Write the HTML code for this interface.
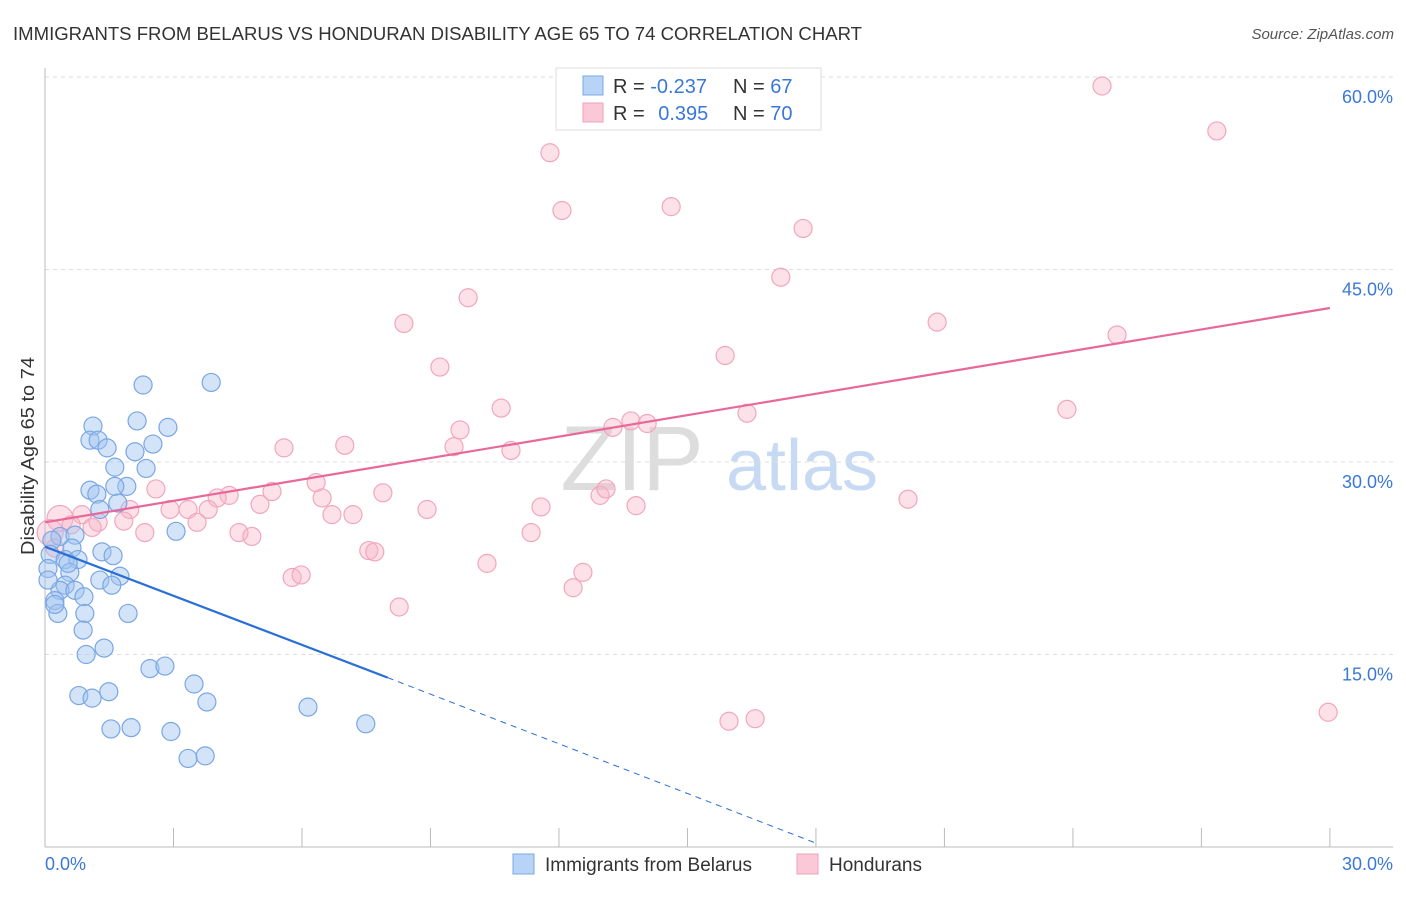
<!DOCTYPE html>
<html><head><meta charset="utf-8">
<style>
body{margin:0;background:#fff;font-family:"Liberation Sans",sans-serif;}
svg text{font-family:"Liberation Sans",sans-serif;}
</style></head>
<body>
<svg id="chart" width="1406" height="892" viewBox="0 0 1406 892" xmlns="http://www.w3.org/2000/svg">
<text x="13" y="40" font-size="18" fill="#333" textLength="849" lengthAdjust="spacingAndGlyphs">IMMIGRANTS FROM BELARUS VS HONDURAN DISABILITY AGE 65 TO 74 CORRELATION CHART</text>
<text x="1394" y="39" font-size="15" fill="#555" text-anchor="end" font-style="italic">Source: ZipAtlas.com</text>
<g>
<text x="632" y="490" font-size="92" fill="#ddd" text-anchor="middle" font-family="Liberation Serif">ZIP</text>
<text x="802" y="490" font-size="72" fill="#c8daf3" text-anchor="middle">atlas</text>
</g>
<g id="grid"></g>
<g id="axes"></g>
<g id="marks"></g>
<g>
<rect x="556" y="68" width="265" height="62" fill="#fff" stroke="#ddd"/>
<rect x="583" y="76" width="20" height="19" fill="#b7d3f5" stroke="#7aa8e6"/>
<rect x="583" y="103" width="20" height="19" fill="#fac8d6" stroke="#f0a0b8"/>
<text x="613" y="93" font-size="20" fill="#333">R = <tspan fill="#3a78d8">-0.237</tspan></text>
<text x="733" y="93" font-size="20" fill="#333">N = <tspan fill="#3a78d8">67</tspan></text>
<text x="613" y="120" font-size="20" fill="#333">R = <tspan fill="#3a78d8" dx="8">0.395</tspan></text>
<text x="733" y="120" font-size="20" fill="#333">N = <tspan fill="#3a78d8">70</tspan></text>
</g>
<text transform="translate(34,456) rotate(-90)" font-size="18" fill="#333" text-anchor="middle" textLength="198" lengthAdjust="spacingAndGlyphs">Disability Age 65 to 74</text>
<g>
<rect x="513" y="854" width="21" height="20" fill="#b7d3f5" stroke="#7aa8e6"/>
<text x="545" y="871" font-size="19" fill="#333">Immigrants from Belarus</text>
<rect x="797" y="854" width="21" height="20" fill="#fac8d6" stroke="#f0a0b8"/>
<text x="829" y="871" font-size="19" fill="#333">Hondurans</text>
</g>
</svg>
<script>
const blueX=[2.29,3.88,1.12,2.15,2.87,1.05,1.24,1.45,2.52,2.10,1.63,2.36,1.05,1.21,1.91,1.63,1.28,1.70,3.06,0.35,0.16,0.70,0.63,0.12,0.07,0.47,1.33,1.59,0.77,1.75,0.58,1.28,1.56,0.47,0.35,0.70,0.91,0.23,0.30,0.93,1.94,0.89,1.38,0.96,2.45,2.80,0.79,1.10,1.49,3.48,3.78,6.14,1.54,2.01,2.94,7.49,3.34,3.74,0.23,0.07,0.54];
const blueY=[36.0,36.2,32.8,33.2,32.7,31.7,31.7,31.1,31.4,30.8,29.6,29.5,27.8,27.5,28.1,28.1,26.3,26.8,24.6,24.2,23.9,24.3,23.3,22.8,21.7,22.4,23.0,22.7,22.4,21.1,21.4,20.8,20.4,20.4,20.0,20.0,19.5,19.2,18.2,18.2,18.2,16.9,15.5,15.0,13.9,14.1,11.8,11.6,12.1,12.7,11.3,10.9,9.2,9.3,9.0,9.6,6.9,7.1,18.9,20.8,22.1];
const pinkX=[24.68,15.39,27.36,11.79,12.07,14.62,17.70,17.18,9.88,8.38,20.83,25.03,15.88,9.22,23.86,10.65,16.39,13.68,14.06,13.26,9.69,7.00,9.55,5.58,10.88,6.33,2.59,7.89,5.30,4.30,6.47,4.02,20.15,12.96,13.10,5.02,13.80,11.58,8.92,2.92,3.34,3.81,6.70,7.19,1.98,0.86,0.35,1.24,1.84,3.55,1.10,0.61,2.33,4.53,4.83,11.35,0.12,0.23,7.56,7.70,10.32,12.56,5.77,5.98,12.33,8.27,15.97,16.58,29.96];
const pinkY=[59.3,57.3,55.8,54.1,49.6,49.9,48.2,44.4,42.8,40.8,40.9,39.9,38.3,37.4,34.1,34.2,33.8,33.2,33.0,32.7,32.5,31.3,31.2,31.1,30.9,28.4,27.9,27.6,27.7,27.4,27.2,27.2,27.1,27.4,27.9,26.7,26.6,26.5,26.3,26.3,26.3,26.3,25.9,25.9,26.3,25.9,25.6,25.3,25.4,25.3,24.9,25.1,24.5,24.5,24.2,24.5,24.5,23.3,23.1,23.0,22.1,21.4,21.0,21.2,20.2,18.7,9.8,10.0,10.5];
const yTicks=[15,30,45,60];
const yTickLabels=["15.0%","30.0%","45.0%","60.0%"];
const xTickVals=[0,3,6,9,12,15,18,21,24,27,30];
const blueTrend=[[0,23.4],[8,13.2],[18,0.3]];
const pinkTrend=[[0,25.3],[30,42.0]];
const NS="http://www.w3.org/2000/svg";
const X=v=>45+v*42.83, Y=v=>847-v*12.833;
function mk(tag,attrs,parent){const e=document.createElementNS(NS,tag);for(const k in attrs)e.setAttribute(k,attrs[k]);parent.appendChild(e);return e;}
const grid=document.getElementById('grid'),axes=document.getElementById('axes'),marks=document.getElementById('marks');
yTicks.forEach((t,i)=>{
 const l=mk('line',{x1:45,x2:1393,y1:Y(t),y2:Y(t),stroke:'#ddd','stroke-dasharray':'4,4'},grid);
 
 
 const tx=mk('text',{x:1393,y:Y(t)+26,'font-size':18,fill:'#3a78d8','text-anchor':'end'},grid);
 tx.textContent=yTickLabels[i];
 
 
});
mk('line',{x1:45,x2:45,y1:68,y2:847,stroke:'#bbb'},axes);
mk('line',{x1:45,x2:1393,y1:847,y2:847,stroke:'#bbb'},axes);
xTickVals.forEach(t=>{const l=mk('line',{x1:X(t),x2:X(t),y1:828,y2:847,stroke:'#bbb'},axes);
 
 });
const xl=mk('text',{x:45,y:870,'font-size':18,fill:'#3a78d8'},axes);xl.textContent="0.0%";


const xr=mk('text',{x:1393,y:870,'font-size':18,fill:'#3a78d8','text-anchor':'end'},axes);xr.textContent="30.0%";


pinkX.forEach((v,i)=>{const r=(v<0.5&&pinkY[i]>24)?13:9;
 const c=mk('circle',{cx:X(v),cy:Y(pinkY[i]),r:r,fill:'rgba(248,180,200,0.4)',stroke:'#f2a6bd','stroke-width':1.2},marks);
 
 });
blueX.forEach((v,i)=>{
 const c=mk('circle',{cx:X(v),cy:Y(blueY[i]),r:9,fill:'rgba(160,196,240,0.45)',stroke:'#7aa6e4','stroke-width':1.2},marks);
 
 });
const b1=mk('line',{x1:X(blueTrend[0][0]),y1:Y(blueTrend[0][1]),x2:X(blueTrend[1][0]),y2:Y(blueTrend[1][1]),stroke:'#2a6fd6','stroke-width':2.2},marks);


const b2=mk('line',{x1:X(blueTrend[1][0]),y1:Y(blueTrend[1][1]),x2:X(blueTrend[2][0]),y2:Y(blueTrend[2][1]),stroke:'#2a6fd6','stroke-width':1,'stroke-dasharray':'6,5'},marks);


const p1=mk('line',{x1:X(pinkTrend[0][0]),y1:Y(pinkTrend[0][1]),x2:X(pinkTrend[1][0]),y2:Y(pinkTrend[1][1]),stroke:'#e8689a','stroke-width':2.2},marks);


</script>
</body></html>
